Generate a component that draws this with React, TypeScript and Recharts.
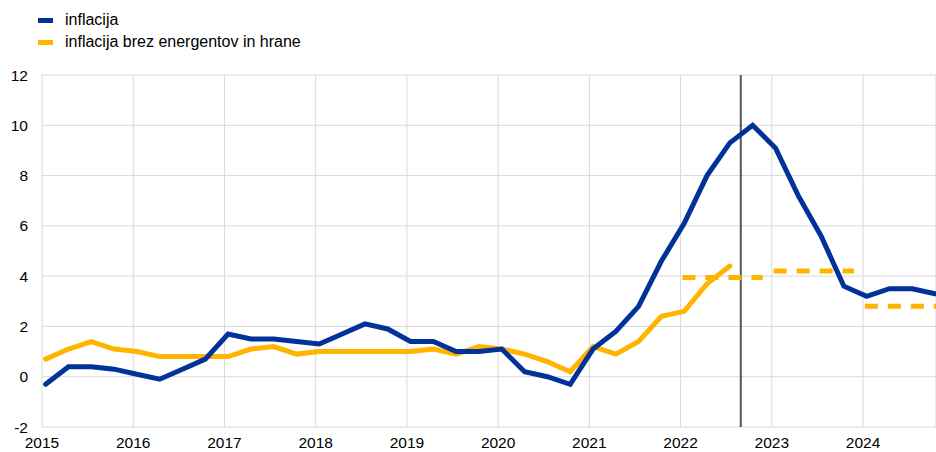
import React from "react";
import { LineChart, Line, XAxis, YAxis, CartesianGrid, ReferenceLine } from "recharts";

// quarterly, 2015Q1 .. 2024Q4
const startYear = 2015;
const inflation = [
  -0.3, 0.4, 0.4, 0.3,
  0.1, -0.1, 0.3, 0.7,
  1.7, 1.5, 1.5, 1.4,
  1.3, 1.7, 2.1, 1.9,
  1.4, 1.4, 1.0, 1.0,
  1.1, 0.2, 0.0, -0.3,
  1.1, 1.8, 2.8, 4.6,
  6.1, 8.0, 9.3, 10.0,
  9.1, 7.2, 5.6, 3.6,
  3.2, 3.5, 3.5, 3.3,
];
// 2015Q1 .. 2022Q3
const coreInflation = [
  0.7, 1.1, 1.4, 1.1,
  1.0, 0.8, 0.8, 0.8,
  0.8, 1.1, 1.2, 0.9,
  1.0, 1.0, 1.0, 1.0,
  1.0, 1.1, 0.9, 1.2,
  1.1, 0.9, 0.6, 0.2,
  1.2, 0.9, 1.4, 2.4,
  2.6, 3.7, 4.4,
];
// annual projections for core inflation
const projYears = [2022, 2023, 2024];
const projValues = [3.95, 4.2, 2.8];

const xTicks = [2015, 2016, 2017, 2018, 2019, 2020, 2021, 2022, 2023, 2024];
const yTicks = [-2, 0, 2, 4, 6, 8, 10, 12];
const cutoff = 2022.66;

const BLUE = "#003299";
const YELLOW = "#FFB400";
const FONT = "'Liberation Sans', Arial, sans-serif";

const toPoints = (vals: number[]) =>
  vals.map((v, i) => ({ x: startYear + 0.04 + i * 0.25, v }));

const inflData = toPoints(inflation);
const coreData = toPoints(coreInflation);
const projData = projYears.map((y, i) => [
  { x: y + 0.02, v: projValues[i] },
  { x: y + 0.9, v: projValues[i] },
]);

const legendItems = [
  { label: "inflacija", color: BLUE },
  { label: "inflacija brez energentov in hrane", color: YELLOW },
];

export default function App() {
  return (
    <div style={{ position: "relative", width: 936, height: 452, fontFamily: FONT }}>
      <style>{`body{margin:0}`}</style>
      <div style={{ position: "absolute", left: 38, top: 9, zIndex: 2 }}>
        {legendItems.map((it) => (
          <div key={it.label} style={{ display: "flex", alignItems: "center", height: 22 }}>
            <div style={{ width: 15, height: 5, background: it.color, marginRight: 12 }} />
            <span style={{ fontSize: 16, color: "#000" }}>{it.label}</span>
          </div>
        ))}
      </div>
      <LineChart width={936} height={452} margin={{ top: 75, right: 0, left: 0, bottom: 0 }}>
        <CartesianGrid stroke="#d9d9d9" strokeWidth={1} />
        <XAxis
          type="number"
          dataKey="x"
          domain={[2015, 2024.8]}
          ticks={xTicks}
          allowDataOverflow
          axisLine={false}
          tickLine={false}
          tickMargin={4}
          height={25}
          tick={{ fill: "#000", fontSize: 15.5, fontFamily: FONT }}
        />
        <YAxis
          type="number"
          domain={[-2, 12]}
          ticks={yTicks}
          width={42}
          axisLine={false}
          tickLine={false}
          tickMargin={8}
          tick={{ fill: "#000", fontSize: 15.5, fontFamily: FONT }}
        />
        <ReferenceLine x={cutoff} stroke="#555" strokeWidth={2} />
        {projData.map((d, i) => (
          <Line
            key={`proj-${i}`}
            data={d}
            dataKey="v"
            stroke={YELLOW}
            strokeWidth={5}
            strokeDasharray="13 10"
            dot={false}
            activeDot={false}
            isAnimationActive={false}
          />
        ))}
        <Line
          data={coreData}
          dataKey="v"
          stroke={YELLOW}
          strokeWidth={5}
          strokeLinecap="round"
          dot={false}
          activeDot={false}
          isAnimationActive={false}
        />
        <Line
          data={inflData}
          dataKey="v"
          stroke={BLUE}
          strokeWidth={5}
          strokeLinecap="round"
          dot={false}
          activeDot={false}
          isAnimationActive={false}
        />
      </LineChart>
    </div>
  );
}
